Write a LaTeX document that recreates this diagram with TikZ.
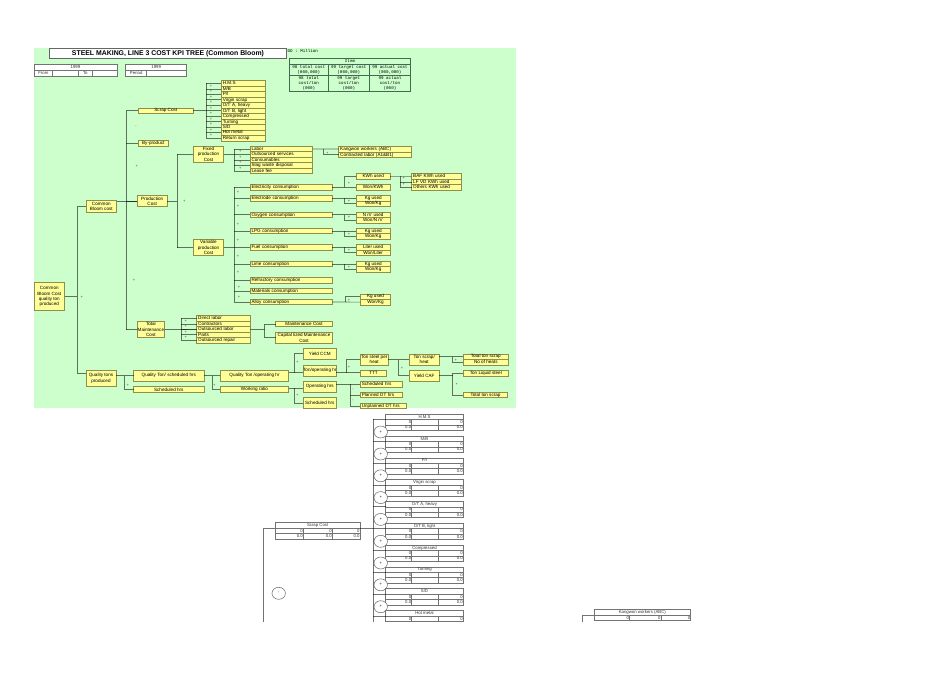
\documentclass[tikz,border=0pt]{standalone}
\usepackage{fontspec}
\setmainfont{Liberation Sans}
\setmonofont{Liberation Mono}
\usetikzlibrary{positioning,calc,shapes.geometric}
\definecolor{bggreen}{HTML}{CCFFCC}
\definecolor{boxyellow}{HTML}{FFFF99}
\definecolor{boxedge}{HTML}{8F8F4A}
\definecolor{tabedge}{HTML}{3F6B4F}
\tikzstyle{line} = [draw, line width=.65pt, black, opacity=.55]
\tikzstyle{ybox} = [draw=boxedge, fill=boxyellow, line width=.6pt, inner sep=0pt, outer sep=0pt, align=center, font=\fontsize{4.6}{5.4}\selectfont]
\tikzstyle{sign} = [inner sep=0pt, font=\fontsize{4}{4}\selectfont, text=black!70]
\tikzstyle{oval} = [draw=black!60, fill=white, ellipse, line width=.5pt, minimum width=13.5pt, minimum height=12pt, inner sep=0pt, font=\fontsize{4}{4}\selectfont]
\tikzstyle{cell} = [draw=black!55, fill=white, line width=.5pt, inner sep=0pt, outer sep=0pt, font=\fontsize{4.3}{5}\selectfont, text=black!80]
\tikzset{
  wbox/.style n args={2}{ybox, minimum width=#1, minimum height=#2},
  row/.style={ybox, minimum width=#1, minimum height=5.47pt, text width=#1-3pt, align=left, text height=3.6pt, text depth=.9pt},
  vcell/.style={cell, minimum width=#1, minimum height=5.4pt, text width=#1-1pt, align=right, text height=3.2pt, text depth=.4pt},
  hcell/.style={cell, minimum width=#1, minimum height=5.4pt, text height=3.4pt, text depth=.8pt},
  mcell/.style n args={2}{draw=tabedge, fill=bggreen, line width=.5pt, inner sep=0pt, outer sep=0pt, align=center, minimum width=#1, minimum height=#2, font=\fontsize{4.2}{5.1}\selectfont\ttfamily}
}
\begin{document}
\begin{tikzpicture}[x=1pt,y=-1pt]
  \useasboundingbox (0,0) rectangle (950,672);
  \fill [bggreen] (34,48) rectangle (516,408);

  % header
  \node [draw=black!60, fill=white, line width=.6pt, minimum width=237.4pt, minimum height=10.7pt, inner sep=0pt, font=\fontsize{6.9}{7}\selectfont\bfseries] (title) at (168,53.3) {STEEL MAKING, LINE 3 COST KPI TREE (Common Bloom)};
  \node [font=\fontsize{4.2}{5}\selectfont\ttfamily, anchor=west, inner sep=0pt] (unit) at (287.5,50.5) {DD : Million};
  \node [hcell=83pt] (yeara) at (75.5,67.2) {1999};
  \node [hcell=18.7pt, anchor=west] (from) at (34,73.1) {From};
  \node [hcell=26pt, right=0pt of from] (fromv) {};
  \node [hcell=13.3pt, right=0pt of fromv] (to) {To};
  \node [hcell=25pt, right=0pt of to] (tov) {};
  \node [hcell=61pt] (yearb) at (156.2,67.2) {1999};
  \node [hcell=21pt, anchor=west] (period) at (125.7,73.1) {Period};
  \node [hcell=40pt, right=0pt of period] (periodv) {};

  % item table
  \node [mcell={121.4pt}{6pt}] (item) at (350,61.3) {Item};
  \foreach \n/\x/\w/\a/\b in {a/308.8/39/98 total cost/98 total,b/348.8/41/99 target cost/99 target,c/390/41.4/99 actual cost/99 actual} {
    \node [mcell={\w pt}{10.7pt}] (item\n) at (\x,69.65) {\a\\(000,000)};
    \node [mcell={\w pt}{16.7pt}] (cost\n) at (\x,83.35) {\b\\cost/ton\\(000)};
  }

  % yellow boxes
  \foreach \t [count=\i from 0] in {H.M.S,M/B,P/I,Virgin scrap,{O/T A, heavy},{O/T B, light},Compressed,Turning,S/D,Hot metal,Return scrap}
    \node [row=44pt] (scrap\i) at (243.3,83.4+5.47*\i) {\t};
  \node [wbox={55pt}{5.4pt}] (scrapcost) at (165.8,110.7) {Scrap Cost};
  \node [wbox={30pt}{6pt}] (byproduct) at (153.3,143.7) {By-product};
  \node [wbox={30.3pt}{11pt}] (prodcost) at (152.2,201.2) {Production\\Cost};
  \node [wbox={30.7pt}{11.6pt}] (commoncost) at (101.3,206.5) {Common\\Bloom cost};
  \node [wbox={30.4pt}{16pt}] (fixedcost) at (208.5,154.3) {Fixed\\production\\Cost};
  \node [wbox={30.4pt}{16.4pt}] (varcost) at (208.5,247.5) {Variable\\production\\Cost};
  \foreach \t [count=\i from 0] in {Labor,Outsourced services,Consumables,Slag waste disposal,Lease fee}
    \node [row=62.7pt] (fixed\i) at (281.4,149+5.47*\i) {\t};
  \foreach \t [count=\i from 0] in {Kangwon workers (ABC),Contracted labor (A1\&B1)}
    \node [row=73pt] (labor\i) at (375.2,149.1+5.6*\i) {\t};
  \foreach \n/\t/\y in {elec/Electricity/187.3,trode/Electrode/198.3,oxy/Oxygen/214.7,lpg/LPG/231,fuel/Fuel/247.3,lime/Lime/264,refr/Refractory/280.3,mat/Materials/291,alloy/Alloy/302}
    \node [row=82.3pt] (\n) at (291.2,\y) {\t\ consumption};
  \foreach \n/\a/\b/\y in {trode/Kg used/{Won/Kg}/198.3,oxy/N m' used/{Won/N m'}/214.7,lpg/Kg used/{Won/Kg}/231,fuel/Liter used/{Won/Liter}/247.3,lime/Kg used/{Won/Kg}/264} {
    \node [wbox={33.7pt}{5.47pt}] (\n top) at (373.2,\y) {\a};
    \node [wbox={33.7pt}{5.47pt}] (\n low) at (373.2,\y+5.4) {\b};
  }
  \node [wbox={33.7pt}{5.47pt}] (electop) at (373.2,176.3) {KWh used};
  \node [wbox={33.7pt}{5.47pt}] (eleclow) at (373.2,187.3) {Won/KWh};
  \node [wbox={30.4pt}{5.47pt}] (alloytop) at (375.5,296.7) {Kg used};
  \node [wbox={30.4pt}{5.47pt}] (alloylow) at (375.5,302.1) {Won/Kg};
  \foreach \t [count=\i from 0] in {BAF KWh used,LF VD KWh used,Others KWh used}
    \node [row=49.6pt] (kwh\i) at (436.5,176.5+5.5*\i) {\t};
  \node [wbox={27.7pt}{16.4pt}] (maintcost) at (150.9,329.5) {Total\\Maintenance\\Cost};
  \foreach \t [count=\i from 0] in {Direct labor,Contractors,Outsourced labor,Parts,Outsourced repair}
    \node [row=53.6pt] (maint\i) at (223.5,318.4+5.47*\i) {\t};
  \node [wbox={56.6pt}{5.4pt}] (maintenance) at (304,324) {Maintenance Cost};
  \node [wbox={56.6pt}{11.3pt}] (capital) at (304,337.7) {Capital lized Maintenance\\Cost};
  \node [wbox={30.7pt}{28pt}] (root) at (49.3,296.7) {Common\\Bloom Cost\\quality ton\\produced};
  \node [wbox={30pt}{16.4pt}] (qtons) at (101,378.5) {Quality tons\\produced};
  \node [wbox={70.3pt}{11pt}] (qsched) at (168.8,375.8) {Quality Ton/ scheduled hrs};
  \node [wbox={70.3pt}{5.6pt}] (schedhrs) at (168.8,389.5) {Scheduled hrs};
  \node [wbox={68.4pt}{11pt}] (qoper) at (254.5,375.8) {Quality Ton /operating hr};
  \node [wbox={68.4pt}{5.6pt}] (ratio) at (254.5,389.5) {Working ratio};
  \node [wbox={33pt}{11pt}] (yieldccm) at (319.8,353.8) {Yield CCM};
  \node [wbox={33pt}{11pt}] (tonoper) at (319.8,370.5) {Ton/operating hr};
  \node [wbox={33pt}{11pt}] (operhrs) at (319.8,386.8) {Operating hrs};
  \node [wbox={33pt}{10.3pt}] (schedb) at (319.8,402.9) {Scheduled hrs};
  \node [wbox={27.7pt}{11pt}] (tonheat) at (374.2,359.5) {Ton steel per\\heat};
  \node [wbox={26.4pt}{5.7pt}] (ttt) at (373.5,373.1) {TTT};
  \node [wbox={29.7pt}{11pt}] (scrapheat) at (424.2,359.5) {Ton scrap/\\heat};
  \node [wbox={29.7pt}{11pt}] (yieldcaf) at (424.2,375.8) {Yield CAF};
  \node [wbox={45pt}{5.5pt}] (totscrap) at (485.8,356.8) {Total ton scrap};
  \node [wbox={45pt}{5.5pt}] (heats) at (485.8,362.2) {No of heats};
  \node [wbox={45pt}{5.7pt}] (liquid) at (485.8,373.1) {Ton Liquid steel};
  \node [wbox={44.4pt}{5.4pt}] (scrapb) at (485.5,395) {Total ton scrap};
  \node [row=42pt] (schedc) at (381.3,384.2) {Scheduled hrs};
  \node [row=42pt] (planned) at (381.3,395) {Planned DT hrs};
  \node [row=46.4pt] (unplanned) at (383.5,406) {Unplanned DT hrs};

  % tree connectors
  \coordinate (busa) at (77.3,296.7);
  \coordinate (busb) at (126.3,206.5);
  \coordinate (busc) at (177.3,201.2);
  \coordinate (busx) at (77.3,373);
  \draw [line] (root) -- (busa);
  \draw [line] (busa |- commoncost) -- (commoncost);
  \draw [line] (busa |- commoncost) -- (busx) -- (busx -| qtons.west);
  \draw [line] (commoncost.east |- prodcost) -- (prodcost);
  \draw [line] (busb |- scrapcost) -- (busb |- maintcost);
  \foreach \n in {scrapcost,byproduct,prodcost,maintcost}
    \draw [line] (busb |- \n) -- (\n);
  \draw [line] (prodcost) -- (busc);
  \draw [line] (busc |- fixedcost) -- (busc |- varcost);
  \draw [line] (busc |- fixedcost) -- (fixedcost);
  \draw [line] (busc |- varcost) -- (varcost);

  \coordinate (busd) at (206,110.7);
  \draw [line] (scrapcost) -- (busd);
  \draw [line] (busd |- scrap0) -- (busd |- scrap10);
  \foreach \i in {0,...,10}
    \draw [line] (busd |- scrap\i) -- (scrap\i);
  \coordinate (buse) at (234,154.3);
  \draw [line] (fixedcost) -- (buse);
  \draw [line] (buse |- fixed0) -- (buse |- fixed4);
  \foreach \i in {0,...,4}
    \draw [line] (buse |- fixed\i) -- (fixed\i);
  \draw [line] (fixed0) -- (labor0);
  \coordinate (busf) at (323.3,149);
  \draw [line] (busf) |- (labor1);
  \draw [line] (buse |- elec) -- (buse |- alloy);
  \draw [line] (varcost) -- (buse |- varcost);
  \foreach \n in {elec,trode,oxy,lpg,fuel,lime,refr,mat,alloy}
    \draw [line] (buse |- \n) -- (\n);
  \draw [line] (elec) -- (eleclow);
  \coordinate (busg) at (344,187.3);
  \draw [line] (busg) |- (electop);
  \foreach \n in {trode,oxy,lpg,fuel,lime} {
    \draw [line] (\n) -- (\n top);
    \draw [line] (busg |- \n) |- (\n low);
  }
  \draw [line] (alloy) -- (alloylow);
  \draw [line] (345.3,0 |- alloylow) |- (alloytop);
  \coordinate (bush) at (400.3,176.3);
  \draw [line] (electop) -- (kwh0);
  \draw [line] (bush) |- (kwh2);
  \draw [line] (bush |- kwh1) -- (kwh1);

  \coordinate (busi) at (181,329.5);
  \draw [line] (maintcost) -- (maint2);
  \draw [line] (busi |- maint0) -- (busi |- maint4);
  \foreach \i in {0,...,4}
    \draw [line] (busi |- maint\i) -- (maint\i);
  \coordinate (busj) at (264.7,329.5);
  \draw [line] (maint2) -- (busj);
  \draw [line] (busj |- maintenance) -- (busj |- capital);
  \draw [line] (busj |- maintenance) -- (maintenance);
  \draw [line] (busj |- capital) -- (capital);

  % quality branch
  \coordinate (busk) at (124.3,375.8);
  \draw [line] (qtons.east |- qsched) -- (qsched);
  \draw [line] (busk) |- (schedhrs);
  \draw [line] (qsched) -- (qoper);
  \coordinate (busl) at (212,375.8);
  \draw [line] (busl) |- (ratio);
  \coordinate (busm) at (294.3,372.7);
  \draw [line] (qoper.east |- busm) -- (tonoper.west |- busm);
  \draw [line] (busm) |- (yieldccm);
  \draw [line] (ratio.east |- 0,388.3) -- (operhrs.west |- 0,388.3);
  \draw [line] (busm |- 0,388.3) |- (schedb);
  \coordinate (busn) at (346,372.7);
  \draw [line] (tonoper.east |- busn) -- (ttt.west |- busn);
  \draw [line] (busn) |- (tonheat);
  \draw [line] (tonheat) -- (scrapheat);
  \coordinate (buso) at (398.7,359.5);
  \draw [line] (buso) |- (yieldcaf);
  \coordinate (busp) at (452.7,356.8);
  \draw [line] (scrapheat.east |- busp) -- (totscrap);
  \draw [line] (busp) |- (heats);
  \coordinate (busq) at (452.7,375.8);
  \draw [line] (yieldcaf) -- (busq);
  \draw [line] (busq |- liquid) -- (liquid);
  \draw [line] (busq |- liquid) |- (scrapb);
  \coordinate (busr) at (350.3,384.2);
  \draw [line] (operhrs.east |- busr) -- (schedc);
  \draw [line] (busr) |- (unplanned);
  \draw [line] (busr |- planned) -- (planned);

  % signs
  \foreach \x/\y [count=\i] in {136.7/166,184.3/201.3,134/280,81.7/297.7,211/86,211/91.5,211/97,211/102.5,211/108,211/113.5,211/119,211/124.5,211/130,211/135.5,240.3/151.7,240.3/157,240.3/162.5,240.3/168,327.3/153,238/192.7,238/206.7,238/224,238/240.3,238/256.7,238/272.7,239/287,239/297,349/183.3,349/201,349/217.5,349/234,349/250.5,349/267,349/300,403.7/178.8,403.7/184.5,185.7/321,185.7/326.5,185.7/332,185.7/337.5,127.7/385,214.3/385,297.3/362.7,297.3/395.7,349/367.7,402/368.3,455.7/360,456.7/384.3}
    \node [sign] (plus\i) at (\x,\y) {+};
  \foreach \x/\y [count=\i] in {136/127,352.7/390,352.7/401}
    \node [sign] (minus\i) at (\x,\y) {-};

  % lower tables
  \coordinate (busu) at (373.3,622);
  \foreach \t/\y [count=\i from 0] in {H.M.S/414,{M/B}/436,{P/I}/457.8,Virgin scrap/479.6,{O/T A, heavy}/501.4,{O/T B, light}/523.3,Compressed/545,Turning/566.8,{S/D}/588.7} {
    \node [hcell=77.6pt, anchor=north west] (tab\i) at (385.7,\y) {\t};
    \node [vcell=26pt, anchor=north west] (tab\i a) at (tab\i.south west) {0};
    \node [vcell=26.6pt, right=0pt of tab\i a] (tab\i b) {};
    \node [vcell=25pt, right=0pt of tab\i b] (tab\i c) {0};
    \node [vcell=26pt, below=0pt of tab\i a] (tab\i d) {0.0};
    \node [vcell=26.6pt, right=0pt of tab\i d] (tab\i e) {};
    \node [vcell=25pt, right=0pt of tab\i e] (tab\i f) {0.0};
    \draw [line] (busu |- tab\i.south) -- (tab\i.south west);
    \node [oval] (circ\i) at (380.7,\y+18) {+};
  }
  \node [hcell=77.6pt, anchor=north west] (tab9) at (385.7,610.5) {Hot metal};
  \node [vcell=26pt, anchor=north west] (tab9a) at (tab9.south west) {0};
  \node [vcell=26.6pt, right=0pt of tab9a] (tab9b) {};
  \node [vcell=25pt, right=0pt of tab9b] (tab9c) {0};
  \draw [line] (busu |- tab9.south) -- (tab9.south west);
  \draw [line] (busu |- tab0.south) -- (busu);

  \node [hcell=84.7pt, anchor=north west] (scrapt) at (275.3,522.6) {Scrap Cost};
  \foreach \n/\m/\w/\t/\u in {a/scrapt.south west/28/0/0.0,b/scrapta.north east/29/0/0.0,c/scraptb.north east/27.7/0/0.0} {
    \node [vcell=\w pt, anchor=north west] (scrapt\n) at (\m) {\t};
    \node [vcell=\w pt, below=0pt of scrapt\n] (scrapt\n\n) {\u};
  }
  \coordinate (busv) at (263.3,622);
  \draw [line] (busv) |- (scrapt.south west);
  \draw [line] (scrapt.south east) -- (busu |- scrapt.south);
  \node [oval] (circs) at (278.7,593.3) {-};

  \node [hcell=96.7pt, anchor=north west] (kang) at (594,609.5) {Kangwon workers (ABC)};
  \foreach \n/\m/\w in {a/kang.south west/35.5,b/kanga.north east/31.5,c/kangb.north east/29.7}
    \node [vcell=\w pt, anchor=north west] (kang\n) at (\m) {0};
  \coordinate (busw) at (582.3,622);
  \draw [line] (busw) |- (kang.south west);
\end{tikzpicture}
\end{document}
